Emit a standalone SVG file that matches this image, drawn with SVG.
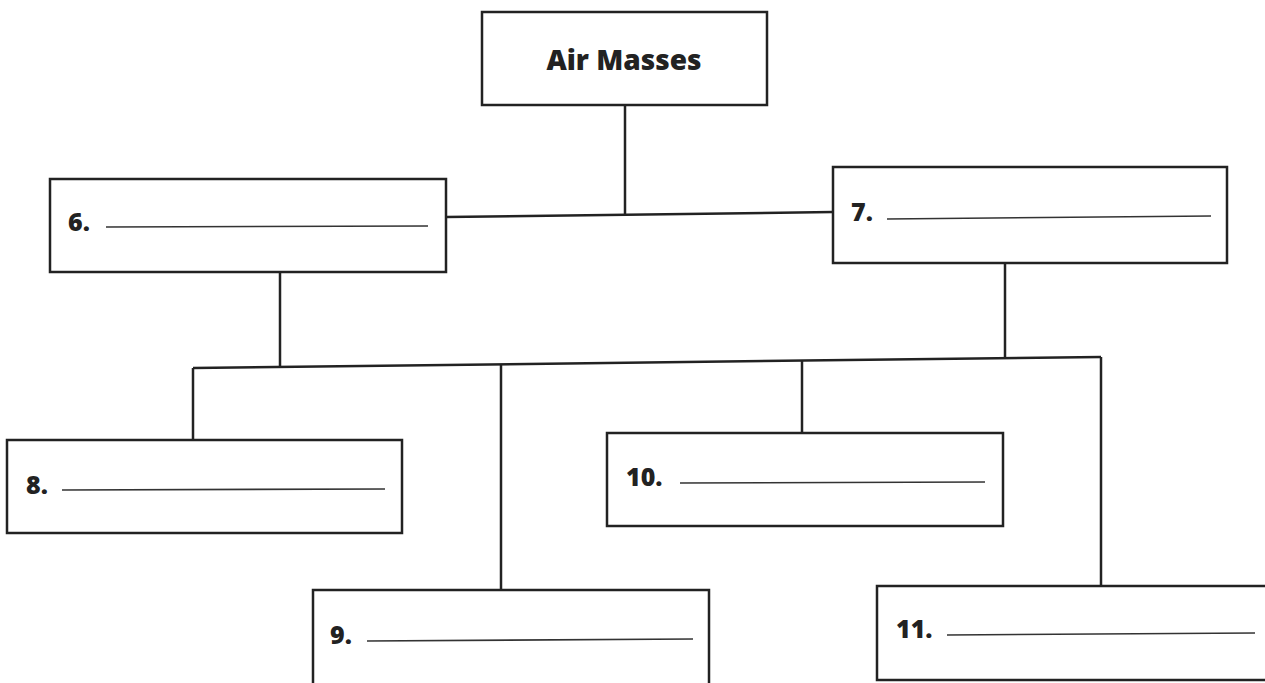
<svg xmlns="http://www.w3.org/2000/svg" width="1265" height="683" viewBox="0 0 1265 683">
<style>
.box{fill:#fff;stroke:#222;stroke-width:2.5}
.con{stroke:#222;stroke-width:2.5;fill:none}
.blank{stroke:#333;stroke-width:1.6}
.t{font-family:"Open Sans","Liberation Sans",sans-serif;font-weight:800;fill:#222}
.num{font-size:25px}
.title{font-size:28px}
</style>
<rect width="1265" height="683" fill="#fff"/>
<g id="connectors">
<line class="con" x1="625" y1="105" x2="625" y2="214"/>
<line class="con" x1="446" y1="217" x2="833" y2="212"/>
<line class="con" x1="280" y1="272" x2="280" y2="367"/>
<line class="con" x1="1005" y1="263" x2="1005" y2="358"/>
<line class="con" x1="193" y1="368" x2="1101" y2="357"/>
<line class="con" x1="193" y1="368" x2="193" y2="440"/>
<line class="con" x1="501" y1="365" x2="501" y2="590"/>
<line class="con" x1="802" y1="361" x2="802" y2="434"/>
<line class="con" x1="1101" y1="357" x2="1101" y2="586"/>
</g>
<g id="air-masses">
<rect class="box" x="482" y="12" width="285" height="93"/>
<text class="t title" x="624" y="70" text-anchor="middle">Air Masses</text>
</g>
<g id="n6">
<rect class="box" x="50" y="179" width="396" height="93"/>
<text class="t num" x="68" y="231">6.</text>
<line class="blank" x1="106" y1="227" x2="428" y2="226"/>
</g>
<g id="n7">
<rect class="box" x="833" y="167" width="394" height="96"/>
<text class="t num" x="851" y="221">7.</text>
<line class="blank" x1="887" y1="219" x2="1211" y2="216"/>
</g>
<g id="n8">
<rect class="box" x="7" y="440" width="395" height="93"/>
<text class="t num" x="26" y="494">8.</text>
<line class="blank" x1="62" y1="490" x2="385" y2="489"/>
</g>
<g id="n9">
<rect class="box" x="313" y="590" width="396" height="95"/>
<text class="t num" x="330" y="644">9.</text>
<line class="blank" x1="367" y1="641" x2="693" y2="639"/>
</g>
<g id="n10">
<rect class="box" x="607" y="433" width="396" height="93"/>
<text class="t num" x="626" y="486">10.</text>
<line class="blank" x1="680" y1="483" x2="985" y2="482"/>
</g>
<g id="n11">
<rect class="box" x="877" y="586" width="392" height="94"/>
<text class="t num" x="896" y="638">11.</text>
<line class="blank" x1="947" y1="635" x2="1255" y2="633"/>
</g>
</svg>
